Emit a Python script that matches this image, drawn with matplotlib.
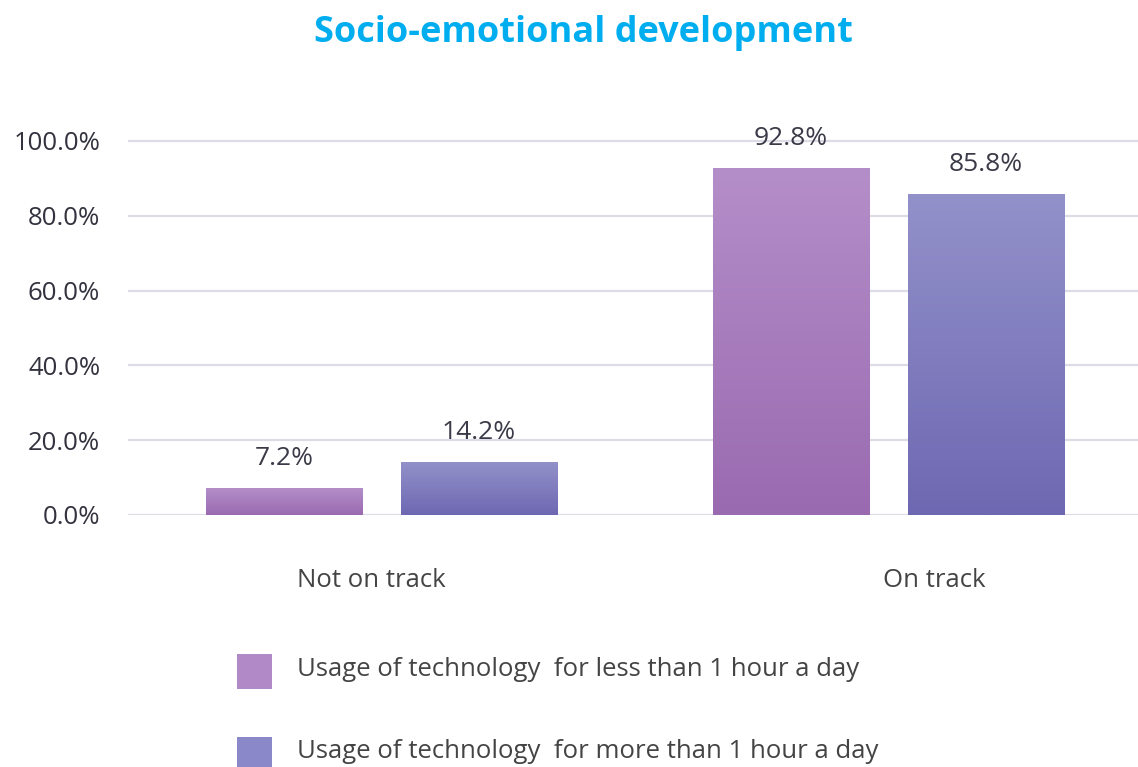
import matplotlib

matplotlib.use("Agg")
import matplotlib.pyplot as plt
import numpy as np
from matplotlib.colors import LinearSegmentedColormap
from matplotlib.patches import Rectangle

title = "Socio-emotional development"
categories = ["Not on track", "On track"]
series_names = [
    "Usage of technology  for less than 1 hour a day",
    "Usage of technology  for more than 1 hour a day",
]
less_than_1h = [7.2, 92.8]
more_than_1h = [14.2, 85.8]
y_ticks = [0, 20, 40, 60, 80, 100]

# (top colour, bottom colour) of each bar's vertical gradient
gradients = [("#b48ec9", "#9a6ab0"), ("#9391ca", "#6e68b2")]
legend_colors = ["#b089c6", "#8a88c8"]

plt.rcParams["font.family"] = ["Open Sans", "DejaVu Sans"]

W, H = 1138, 767
fig = plt.figure(figsize=(W / 100, H / 100), dpi=100)
ax = fig.add_axes([128 / W, 252 / H, 1010 / W, 374 * 1.01 / H])

x = np.arange(len(categories))
width = 0.3077
offset = 0.1923

for vals, (top, bottom), sign in zip(
    [less_than_1h, more_than_1h], gradients, [-1, 1]
):
    bars = ax.bar(x + sign * offset, vals, width, facecolor="none", edgecolor="none", zorder=3)
    cmap = LinearSegmentedColormap.from_list("grad", [bottom, top])
    grad = np.linspace(0, 1, 256).reshape(-1, 1)
    for rect, v in zip(bars, vals):
        x0 = rect.get_x()
        img = ax.imshow(
            grad, cmap=cmap, origin="lower", aspect="auto",
            extent=(x0, x0 + rect.get_width(), 0, v), zorder=3,
        )
        img.set_clip_path(rect)
        ax.annotate(
            f"{v:.1f}%", (rect.get_x() + rect.get_width() / 2, v),
            xytext=(0, 16.5), textcoords="offset points",
            ha="center", va="baseline", fontsize=19, color="#3a3a48",
        )

ax.set_xlim(-0.5, 1.492)
ax.set_ylim(0, 101)

ax.set_yticks(y_ticks)
ax.set_yticklabels([f"{t:.1f}%" for t in y_ticks], fontsize=18.5, color="#33333f")
ax.tick_params(axis="y", length=0, pad=20)
ax.set_xticks([])
for s in ax.spines.values():
    s.set_visible(False)
for t in y_ticks:
    ax.axhline(t, color="#dddbe5", linewidth=1.6, zorder=1)

# category names sit under each group
for pos, name in zip([-0.02, 1.09], categories):
    ax.text(pos, -17.5, name, ha="center", va="center", fontsize=18.5, color="#444444")

fig.text(583 / W, 1 - 33 / H, title, ha="center", va="center",
         fontsize=26, fontweight="bold", color="#00aeef")

# legend: colour square plus label, one row per series
for i, (name, c) in enumerate(zip(series_names, legend_colors)):
    top_px = 654 + i * 83
    fig.patches.append(Rectangle(
        (237 / W, 1 - (top_px + 35) / H), 35 / W, 35 / H,
        transform=fig.transFigure, facecolor=c, edgecolor="none",
    ))
    fig.text(297 / W, 1 - (top_px + 15) / H, name, ha="left", va="center",
             fontsize=18.5, color="#444444")

fig.savefig("out.png", dpi=100)
